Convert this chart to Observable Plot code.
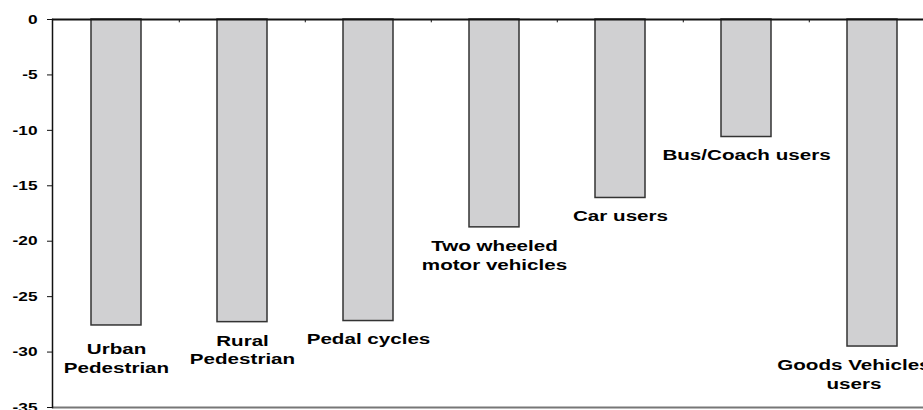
<!DOCTYPE html>
<html><head><meta charset="utf-8">
<script src="https://cdn.jsdelivr.net/npm/d3@7"></script>
<script src="https://cdn.jsdelivr.net/npm/@observablehq/plot@0.6"></script>
<style>
html,body{margin:0;padding:0;background:#fff;}
#chart{width:923px;height:410px;overflow:hidden;}
</style></head><body><div id="chart"></div>
<script>
const categories = ["Urban Pedestrian", "Rural Pedestrian", "Pedal cycles", "Two wheeled motor vehicles", "Car users", "Bus/Coach users", "Goods Vehicles users"];
const labels = ["Urban\nPedestrian", "Rural\nPedestrian", "Pedal cycles", "Two wheeled\nmotor vehicles", "Car users", "Bus/Coach users", "Goods Vehicles\nusers"];
const values = [-27.6, -27.3, -27.2, -18.75, -16.1, -10.6, -29.5];
const yTicks = [0, -5, -10, -15, -20, -25, -30, -35];

const data = categories.map((c, i) => ({category: c, label: labels[i], value: values[i]}));
const W = 923, H = 410, left = 52, right = 937;
const step = (right - left) / categories.length;
const font = "'Liberation Sans', Arial, sans-serif";
const labelStyle = {x: "category", y: "value", text: "label", lineAnchor: "top", fontSize: 15.5, fontWeight: "bold", lineHeight: 1.22, fill: "#000"};

const plot = Plot.plot({
  width: W, height: H,
  marginLeft: left, marginRight: 0, marginTop: 19, marginBottom: 3,
  style: {fontFamily: font, fontWeight: "bold", color: "#000", background: "#fff"},
  x: {domain: categories, range: [left, right], paddingInner: 0.6, paddingOuter: 0.3, axis: null, label: null},
  y: {domain: [-35, 0], axis: null, label: null},
  marks: [
    Plot.barY(data, {x: "category", y: "value", fill: "#d0d0d2", stroke: "#333", strokeWidth: 1.5}),
    Plot.ruleY([-35], {stroke: "#777", strokeWidth: 2}),
    Plot.ruleX(categories.slice(1), {x: d => d, y1: 0, y2: -0.3, dx: -step / 2, stroke: "#111", strokeWidth: 1}),
    Plot.ruleY([0], {stroke: "#111", strokeWidth: 2}),
    Plot.frame({anchor: "left", stroke: "#111", strokeWidth: 1.5}),
    Plot.axisY(yTicks, {anchor: "left", label: null, tickSize: 5, tickPadding: 10, fontSize: 13, fontWeight: "bold", tickFormat: d => String(d), stroke: "#111"}),
    Plot.text(data.filter((d, i) => i === 0), {...labelStyle, dy: 15.5}),
    Plot.text(data.filter((d, i) => i > 0 && i < 6), {...labelStyle, dy: 10}),
    Plot.text(data.filter((d, i) => i === 6), {...labelStyle, dy: 10, dx: -18.6})
  ]
});
document.getElementById("chart").appendChild(plot);

// horizontal stretch of glyphs, as in the reference image
const S = 1.33;
plot.querySelectorAll("text").forEach(t => {
  const tr = t.getAttribute("transform");
  if (tr) {
    t.setAttribute("transform", `${tr} scale(${S},1)`);
  } else {
    const x = parseFloat(t.getAttribute("x") || "0") || 0;
    t.setAttribute("x", x / S);
    t.setAttribute("transform", `scale(${S},1)`);
  }
});
</script></body></html>
